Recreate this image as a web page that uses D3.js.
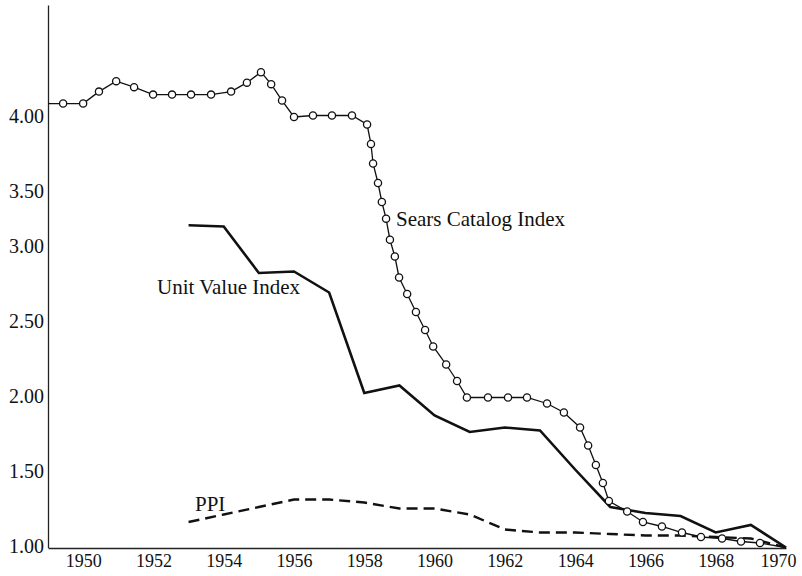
<!DOCTYPE html>
<html>
<head>
<meta charset="utf-8">
<script src="https://cdn.jsdelivr.net/npm/d3@7"></script>
<style>
    body { margin: 0; background: #fff; }
    svg { display: block; }
    text { font-family: "Liberation Serif", "DejaVu Serif", serif; fill: #111; }
</style>
</head>
<body>
<svg id="chart" width="802" height="576"></svg>
<script>
// tick labels
const xTicks = [1950, 1952, 1954, 1956, 1958, 1960, 1962, 1964, 1966, 1968, 1970];
const yTicks = [1.00, 1.50, 2.00, 2.50, 3.00, 3.50, 4.00];

// Sears Catalog Index (catalog points)
const searsYears = [1949.43, 1950.0, 1950.45, 1950.94, 1951.45, 1951.99, 1952.53, 1953.07, 1953.64,
    1954.21, 1954.66, 1955.06, 1955.35, 1955.66, 1956.0, 1956.54, 1957.08, 1957.65, 1958.08,
    1958.19, 1958.25, 1958.39, 1958.5, 1958.62, 1958.73, 1958.87, 1958.99, 1959.22, 1959.47,
    1959.73, 1959.96, 1960.33, 1960.64, 1960.92, 1961.52, 1962.09, 1962.63, 1963.2, 1963.68,
    1964.14, 1964.37, 1964.59, 1964.79, 1964.96, 1965.48, 1965.93, 1966.47, 1967.04, 1967.58,
    1968.18, 1968.72, 1969.26];
const searsValues = [4.09, 4.09, 4.17, 4.24, 4.20, 4.15, 4.15, 4.15, 4.15,
    4.17, 4.23, 4.30, 4.22, 4.11, 4.00, 4.01, 4.01, 4.01, 3.95,
    3.82, 3.69, 3.56, 3.41, 3.26, 3.07, 2.94, 2.80, 2.69, 2.57,
    2.45, 2.34, 2.22, 2.11, 2.00, 2.00, 2.00, 2.00, 1.96, 1.90,
    1.80, 1.68, 1.55, 1.43, 1.31, 1.24, 1.17, 1.14, 1.10, 1.07,
    1.06, 1.04, 1.03];
const searsStart = [1949, 4.09];
const searsEnd = [1970, 1.00];

// Unit Value Index
const unitYears = [1953, 1954, 1955, 1956, 1957, 1958, 1959, 1960, 1961, 1962, 1963,
    1964, 1965, 1966, 1967, 1968, 1969, 1970];
const unitValues = [3.20, 3.19, 2.83, 2.84, 2.70, 2.03, 2.08, 1.88, 1.77, 1.80, 1.78,
    1.52, 1.27, 1.23, 1.21, 1.10, 1.15, 1.00];

// PPI
const ppiYears = [1953, 1954, 1955, 1956, 1957, 1958, 1959, 1960, 1961, 1962, 1963,
    1964, 1965, 1966, 1967, 1968, 1969, 1970];
const ppiValues = [1.17, 1.22, 1.27, 1.32, 1.32, 1.30, 1.26, 1.26, 1.22, 1.12, 1.10,
    1.10, 1.09, 1.08, 1.08, 1.07, 1.06, 1.00];

const svg = d3.select('#chart');

// scales (the printed value axis is not evenly spaced above 3.00)
const x = d3.scaleLinear().domain([1949, 1970]).range([48, 786]);
const y = d3.scaleLinear()
    .domain([1.00, 3.00, 3.50, 4.00, 4.75])
    .range([547.5, 247.5, 192, 117, 5]);

// axes
const xAxis = svg.append('g')
    .attr('transform', 'translate(0,548)')
    .call(d3.axisBottom(x).tickValues(xTicks).tickFormat(d3.format('d'))
        .tickSize(0).tickPadding(6));
xAxis.select('.domain').attr('stroke', '#222').attr('stroke-width', 1.3);
xAxis.selectAll('text').style('font-size', '18px');
// last year label sits a little to the left, as printed
xAxis.selectAll('.tick')
    .filter((d) => d === 1970)
    .select('text')
    .attr('dx', '-8');

const yAxis = svg.append('g')
    .attr('transform', 'translate(48,0)')
    .call(d3.axisLeft(y).tickValues(yTicks).tickFormat(d3.format('.2f'))
        .tickSize(0).tickPadding(4));
yAxis.select('.domain').attr('stroke', '#222').attr('stroke-width', 1.3);
yAxis.selectAll('text').style('font-size', '20px').attr('dy', '0.25em');

// line generator
const line = d3.line()
    .x((d) => x(d[0]))
    .y((d) => y(d[1]));

// PPI dashed
svg.append('path')
    .datum(d3.zip(ppiYears, ppiValues))
    .attr('d', line)
    .attr('fill', 'none')
    .attr('stroke', '#111')
    .attr('stroke-width', 2.4)
    .attr('stroke-dasharray', '11,6');

// Unit Value Index
svg.append('path')
    .datum(d3.zip(unitYears, unitValues))
    .attr('d', line)
    .attr('fill', 'none')
    .attr('stroke', '#111')
    .attr('stroke-width', 2.6)
    .attr('stroke-linejoin', 'miter');

// Sears line + circles
const searsPoints = d3.zip(searsYears, searsValues);
svg.append('path')
    .datum([searsStart].concat(searsPoints, [searsEnd]))
    .attr('d', line)
    .attr('fill', 'none')
    .attr('stroke', '#111')
    .attr('stroke-width', 1.3);

svg.append('g')
    .selectAll('circle')
    .data(searsPoints)
    .enter().append('circle')
    .attr('cx', (d) => x(d[0]))
    .attr('cy', (d) => y(d[1]))
    .attr('r', 3.6)
    .attr('fill', '#fff')
    .attr('stroke', '#111')
    .attr('stroke-width', 1.3);

// series labels
const labels = [
    { text: 'Sears Catalog Index', x: 396, y: 226 },
    { text: 'Unit Value Index', x: 157, y: 294 },
    { text: 'PPI', x: 195, y: 511 }
];
svg.append('g')
    .selectAll('text')
    .data(labels)
    .enter().append('text')
    .attr('x', (d) => d.x)
    .attr('y', (d) => d.y)
    .style('font-size', '21px')
    .text((d) => d.text);
</script>
</body>
</html>
